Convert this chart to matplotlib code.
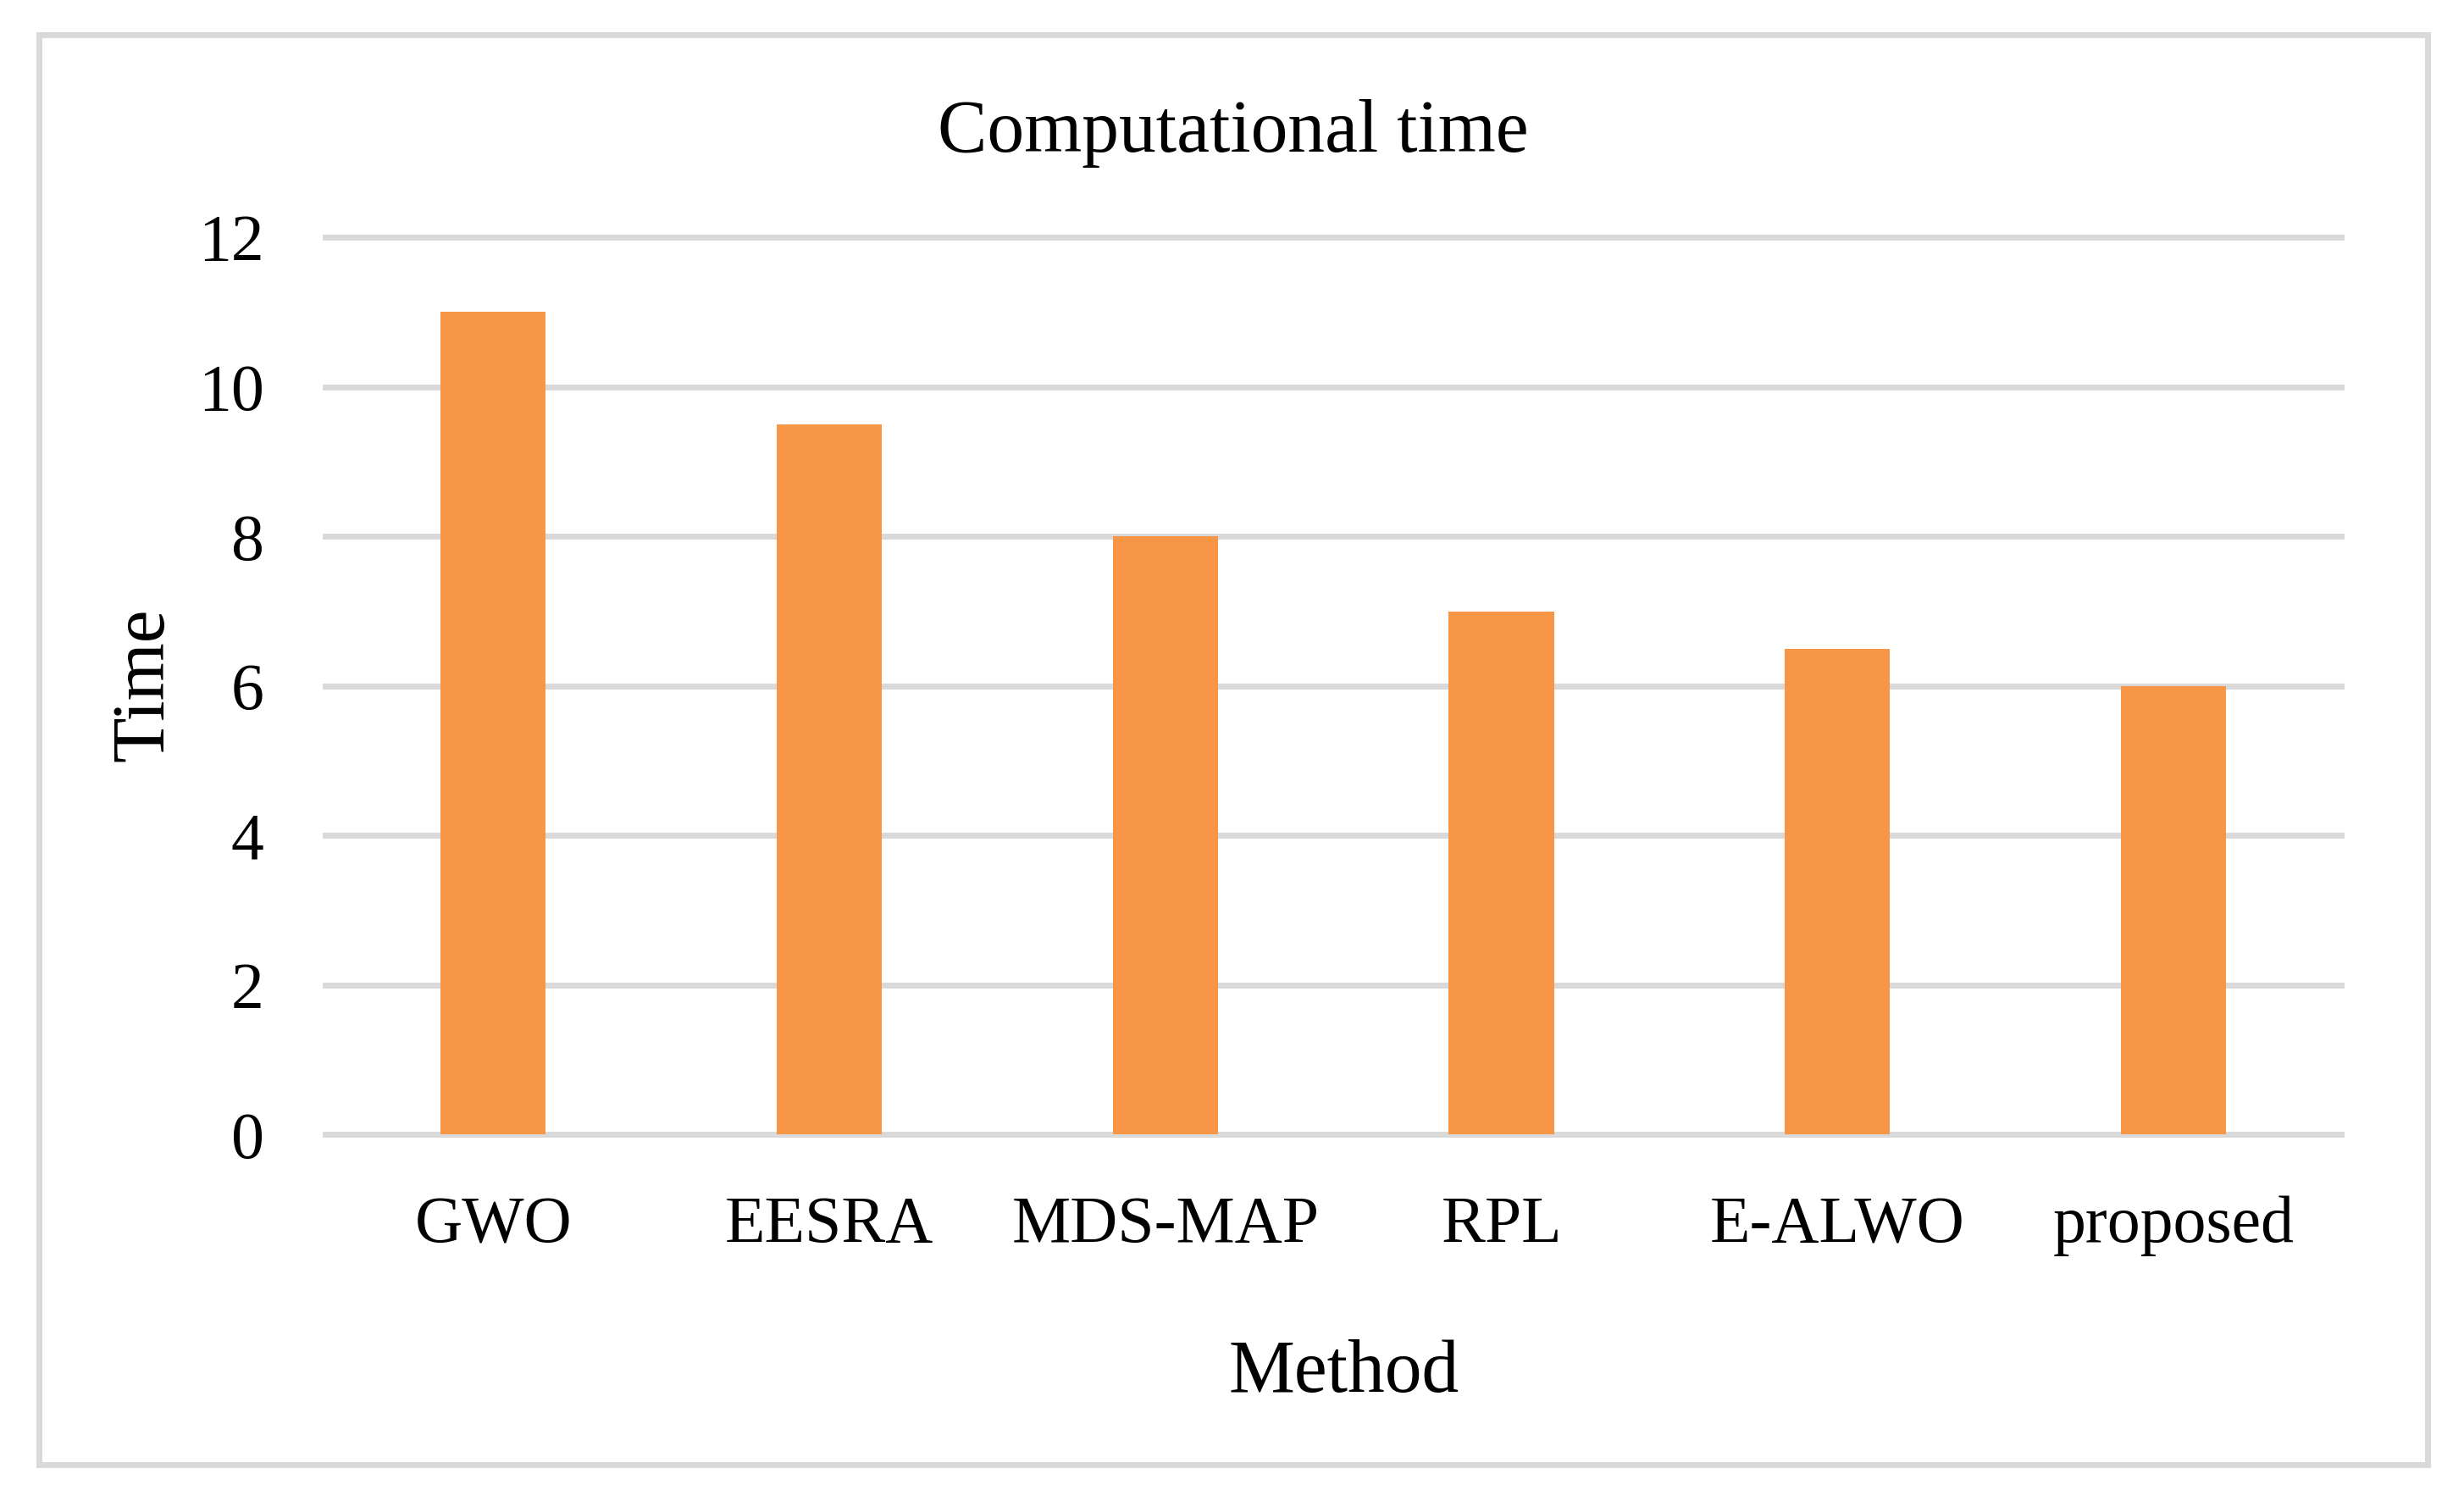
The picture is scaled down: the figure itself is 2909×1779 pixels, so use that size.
import matplotlib
matplotlib.use('Agg')
import matplotlib.pyplot as plt
from matplotlib.patches import Rectangle

# Data

methods = ['GWO', 'EESRA', 'MDS-MAP', 'RPL', 'E-ALWO', 'proposed']
times = [11, 9.5, 8, 7, 6.5, 6]
y_ticks = [0, 2, 4, 6, 8, 10, 12]

BAR_COLOR = '#F79646'
GRID_COLOR = '#D9D9D9'

plt.rcParams['font.family'] = ['Liberation Serif', 'DejaVu Serif']

fig = plt.figure(figsize=(14.545, 8.895), dpi=200)
ax = fig.add_axes([0.1320, 0.2471, 0.8183, 0.5954])

x = range(len(methods))
ax.bar(x, times, width=0.313, color=BAR_COLOR, zorder=3)

ax.set_xlim(-0.5, len(methods) - 0.5)
ax.set_ylim(0, 12)
ax.set_yticks(y_ticks)
ax.set_xticks(list(x))
ax.set_xticklabels(methods)

for side in ['top', 'right', 'left', 'bottom']:
    ax.spines[side].set_visible(False)
ax.tick_params(axis='both', length=0, labelsize=28, colors='black')
ax.tick_params(axis='y', pad=26)
ax.tick_params(axis='x', pad=26)

# horizontal gridlines, including the ones at 0 and 12
for yv in y_ticks:
    ax.axhline(yv, color=GRID_COLOR, linewidth=2.5, zorder=1, clip_on=False)

fig.text(0.5006, 0.9115, 'Computational time', ha='center', va='center', fontsize=31.5)
fig.text(0.0587, 0.5454, 'Time', ha='center', va='center', rotation=90, fontsize=31.5)
fig.text(0.5453, 0.0885, 'Method', ha='center', va='center', fontsize=31.5)

# outer chart border
border = Rectangle((0.0159, 0.0282), 0.9694, 0.9488,
                   transform=fig.transFigure, fill=False,
                   edgecolor=GRID_COLOR, linewidth=2.5)
fig.patches.append(border)

fig.savefig('out.png', dpi=200, facecolor='white')
